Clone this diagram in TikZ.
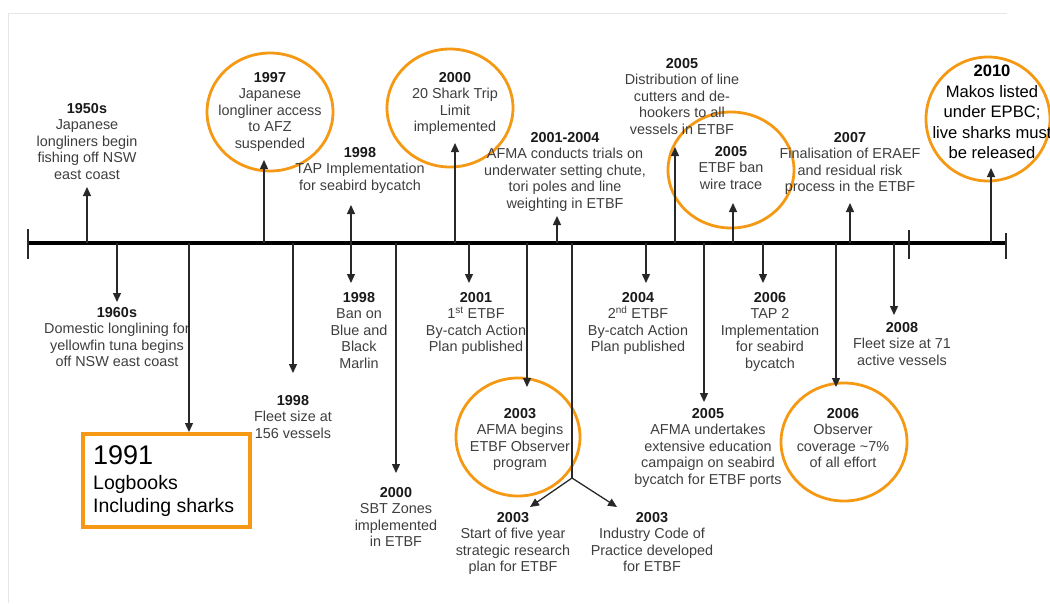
\documentclass[tikz,border=0pt]{standalone}
\usepackage{fontspec}
\setmainfont{Liberation Sans}
\usetikzlibrary{arrows.meta,shapes.geometric}
\definecolor{orng}{RGB}{245,153,20}
\definecolor{txtg}{RGB}{62,62,62}
\definecolor{lineg}{RGB}{40,40,40}
\definecolor{frameg}{RGB}{230,230,230}
\newcommand{\evfont}{\fontsize{14.4}{16.5}\selectfont}
\newcommand{\bigevfont}{\fontsize{16.6}{20.5}\selectfont}
\newcommand{\yr}[1]{\textbf{\color{black!90}#1}}
\begin{document}
\begin{tikzpicture}[x=1pt,y=-1pt,
  evt/.style={align=center,font=\evfont,text=txtg,inner sep=0pt,anchor=north},
  bigevt/.style={align=center,font=\bigevfont,text=black,inner sep=0pt,anchor=north},
  conn/.style={draw=lineg,line width=1.3pt,-{Triangle[length=9pt,width=8pt]}},
  hl/.style={draw=orng,line width=2.8pt,ellipse,inner sep=0pt},
  hlbox/.style={draw=orng,line width=4pt,rectangle,inner sep=0pt,minimum width=167pt,minimum height=93pt},
  axisline/.style={draw=black,line width=4pt},
  tick/.style={draw=lineg,line width=1.3pt},
  frame/.style={draw=frameg,line width=1pt}]
\useasboundingbox (0,0) rectangle (1050,603);
% frame
\draw[frame] (8,603) -- (8,13) -- (1007,13);
% axis
\coordinate (axL) at (27,243);
\coordinate (axR) at (1006,243);
\draw[axisline] (axL) -- (axR);
\draw[tick] (28,229) -- (28,259);
\draw[tick] (909,230) -- (909,259);
\draw[tick] (1006,233) -- (1006,259);

% ---------- upper events ----------
\node[hl,minimum width=126pt,minimum height=118pt] (c1997) at (270,112) {};
\node[hl,minimum width=126pt,minimum height=118pt] (c2000) at (450,108) {};
\node[hl,minimum width=126pt,minimum height=116pt] (c2005b) at (731,170) {};
\node[hl,minimum width=124pt,minimum height=124pt] (c2010) at (988,119) {};

\node[evt] (t1950) at (87,102.9) {\yr{1950s}\\Japanese\\longliners begin\\fishing off NSW\\east coast};
\node[evt] (t1997) at (270,71.9) {\yr{1997}\\Japanese\\longliner access\\to AFZ\\suspended};
\node[evt] (t1998tap) at (360,146.9) {\yr{1998}\\TAP Implementation\\for seabird bycatch};
\node[evt] (t2000) at (455,71.9) {\yr{2000}\\20 Shark Trip\\Limit\\implemented};
\node[evt] (t2001) at (565,131.9) {\yr{2001-2004}\\AFMA conducts trials on\\underwater setting chute,\\tori poles and line\\weighting in ETBF};
\node[evt] (t2005a) at (682,57.9) {\yr{2005}\\Distribution of line\\cutters and de-\\hookers to all\\vessels in ETBF};
\node[evt] (t2005b) at (731,145.9) {\yr{2005}\\ETBF ban\\wire trace};
\node[evt] (t2007) at (850,131.9) {\yr{2007}\\Finalisation of ERAEF\\and residual risk\\process in the ETBF};
\node[bigevt] (t2010) at (992,65) {\textbf{2010}\\Makos listed\\under EPBC;\\live sharks must\\be released};

\foreach \n/\x/\tip in {1950/87/187, 1997/264/160, 1998tap/351/205, 2000/455/143,
  2001/557/216, 2005a/675/147, 2005b/733/203, 2007/850/203, 2010/991/168}{
  \coordinate (a\n) at (\x,243);
  \coordinate (p\n) at (\x,\tip);
  \draw[conn] (a\n) -- (p\n);
}

% ---------- lower events ----------
\node[hl,minimum width=124pt,minimum height=118pt] (c2003) at (518,437) {};
\node[hl,minimum width=126pt,minimum height=118pt] (c2006) at (844,442) {};
\node[hlbox] (b1991) at (166.5,480.5) {};
\node[anchor=north west,align=left,inner sep=0pt,text=black,font=\fontsize{19.5}{23}\selectfont] (t1991) at (93,445.7) {{\fontsize{27}{28}\selectfont 1991}\\[2pt]Logbooks\\Including sharks};

\node[evt] (t1960) at (117,306.9) {\yr{1960s}\\Domestic longlining for\\yellowfin tuna begins\\off NSW east coast};
\node[evt] (t1998fl) at (293,394.9) {\yr{1998}\\Fleet size at\\156 vessels};
\node[evt] (t1998ban) at (359,291.9) {\yr{1998}\\Ban on\\Blue and\\Black\\Marlin};
\node[evt] (t2000sbt) at (396,486.9) {\yr{2000}\\SBT Zones\\implemented\\in ETBF};
\node[evt] (t2001b) at (476,291.9) {\yr{2001}\\1\textsuperscript{st} ETBF\\By-catch Action\\Plan published};
\node[evt] (t2003a) at (520,407.9) {\yr{2003}\\AFMA begins\\ETBF Observer\\program};
\node[evt] (t2003b) at (513,511.9) {\yr{2003}\\Start of five year\\strategic research\\plan for ETBF};
\node[evt] (t2003c) at (652,511.9) {\yr{2003}\\Industry Code of\\Practice developed\\for ETBF};
\node[evt] (t2004) at (638,291.9) {\yr{2004}\\2\textsuperscript{nd} ETBF\\By-catch Action\\Plan published};
\node[evt] (t2005c) at (708,407.9) {\yr{2005}\\AFMA undertakes\\extensive education\\campaign on seabird\\bycatch for ETBF ports};
\node[evt] (t2006a) at (770,291.9) {\yr{2006}\\TAP 2\\Implementation\\for seabird\\bycatch};
\node[evt] (t2006b) at (843,407.9) {\yr{2006}\\Observer\\coverage \textasciitilde7\%\\of all effort};
\node[evt] (t2008) at (902,321.9) {\yr{2008}\\Fleet size at 71\\active vessels};

\foreach \n/\x/\tip in {1960/117/302, 1991/189/432, 1998fl/293/373, 1998ban/351/283,
  2000sbt/396/473, 2001b/469/283, 2003a/527/387, 2004/646/283, 2005c/704/402,
  2006a/763/283, 2006b/836/387, 2008/894/315}{
  \coordinate (a\n) at (\x,243);
  \coordinate (p\n) at (\x,\tip);
  \draw[conn] (a\n) -- (p\n);
}

% split arrow for the two 2003 events
\coordinate (a2003s) at (572,243);
\coordinate (s2003) at (572,478);
\coordinate (p2003b) at (530,507);
\coordinate (p2003c) at (617,507);
\draw[draw=lineg,line width=1.3pt] (a2003s) -- (s2003);
\draw[conn] (s2003) -- (p2003b);
\draw[conn] (s2003) -- (p2003c);
\end{tikzpicture}
\end{document}
